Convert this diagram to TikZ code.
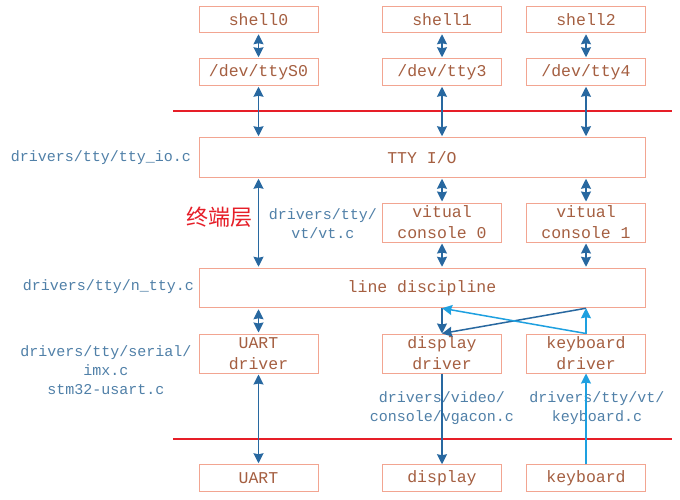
\documentclass[tikz,border=0pt]{standalone}
\usepackage{fontspec}
\setmonofont{Liberation Mono}
\newfontfamily\cjkfont{Noto Sans CJK SC}
\usetikzlibrary{arrows.meta}
\definecolor{boxc}{RGB}{242,165,145}
\definecolor{boxt}{RGB}{165,95,65}
\definecolor{labc}{RGB}{80,128,168}
\definecolor{darkar}{RGB}{40,104,160}
\definecolor{lightar}{RGB}{30,160,224}
\definecolor{redl}{RGB}{230,30,40}
\tikzset{
  ah/.tip={Stealth[length=10pt,width=10pt,inset=1pt]},
  bx/.style={draw=boxc,line width=1pt,inner sep=0pt,minimum width=119pt,text=boxt,
    font=\fontsize{16.5}{21}\selectfont\ttfamily,align=center},
  sbx/.style={bx,minimum height=26.5pt},
  tbx/.style={bx,minimum height=39pt},
  wbx/.style={bx,minimum width=446pt,minimum height=39.5pt},
  lab/.style={text=labc,font=\fontsize{15}{19}\selectfont\ttfamily,align=center,inner sep=0pt},
  dar/.style={draw=darkar,line width=1.5pt,shorten <=1pt,shorten >=1pt,{ah}-{ah}},
  dto/.style={draw=darkar,line width=1.5pt,-{ah}},
  lto/.style={draw=lightar,line width=1.5pt,-{ah}},
  redline/.style={draw=redl,line width=1.2pt}
}
\begin{document}
\begin{tikzpicture}[x=1pt,y=-1pt]
\useasboundingbox[fill=white] (0,0) rectangle (680,500);
% top row
\node[sbx] (shell0) at (258.5,19.5) {shell0};
\node[sbx] (shell1) at (442,19.5) {shell1};
\node[sbx] (shell2) at (586,19.5) {shell2};
\node[sbx] (ttyS0) at (258.5,72) {/dev/ttyS0};
\node[sbx] (tty3) at (442,72) {/dev/tty3};
\node[sbx] (tty4) at (586,72) {/dev/tty4};
% red lines
\coordinate (r1a) at (173,111); \coordinate (r1b) at (672,111);
\coordinate (r2a) at (173,439); \coordinate (r2b) at (672,439);
\draw[redline] (r1a) -- (r1b);
\draw[redline] (r2a) -- (r2b);
% middle
\node[wbx] (ttyio) at (422,157.5) {TTY I/O};
\node[tbx] (vc0) at (442,222.5) {vitual\\console 0};
\node[tbx] (vc1) at (586,222.5) {vitual\\console 1};
\node[wbx] (ld) at (422,288) {line discipline};
\node[tbx] (uartdrv) at (258.5,353.5) {UART\\driver};
\node[tbx] (dispdrv) at (442,353.5) {display\\driver};
\node[tbx] (kbddrv) at (586,353.5) {keyboard\\driver};
% bottom
\node[sbx] (uart) at (258.5,478) {UART};
\node[sbx] (display) at (442,478) {display};
\node[sbx] (keyboard) at (586,478) {keyboard};
% labels
\node[lab,anchor=east] (l1) at (191,158) {drivers/tty/tty\_io.c};
\node[lab] (l2) at (323,224) {drivers/tty/\\vt/vt.c};
\node[lab,anchor=east] (l3) at (194,287) {drivers/tty/n\_tty.c};
\node[lab] (l4) at (106,370) {drivers/tty/serial/\\imx.c\\stm32-usart.c};
\node[lab] (l5) at (442,408) {drivers/video/\\console/vgacon.c};
\node[lab] (l6) at (597,408) {drivers/tty/vt/\\keyboard.c};
\node[text=redl,font=\fontsize{22}{24}\cjkfont,inner sep=0pt] (layer) at (219,217) {终端层};
% arrows column 0
\draw[dar] (shell0) -- (ttyS0);
\draw[dar] (ttyS0.south) -- (ttyS0.south |- ttyio.north);
\draw[dar] (ttyio.south -| ttyS0) -- (ld.north -| ttyS0);
\draw[dar] (ld.south -| uartdrv) -- (uartdrv.north);
\draw[dar] (uartdrv) -- (uart);
% column 1
\draw[dar] (shell1) -- (tty3);
\draw[dar] (tty3.south) -- (tty3.south |- ttyio.north);
\draw[dar] (ttyio.south -| vc0) -- (vc0.north);
\draw[dar] (vc0.south) -- (ld.north -| vc0);
% column 2
\draw[dar] (shell2) -- (tty4);
\draw[dar] (tty4.south) -- (tty4.south |- ttyio.north);
\draw[dar] (ttyio.south -| vc1) -- (vc1.north);
\draw[dar] (vc1.south) -- (ld.north -| vc1);
% cross arrows
\draw[dto] (ld.south -| dispdrv) -- (dispdrv.north);
\draw[dto] (ld.south -| kbddrv) -- (dispdrv.north);
\draw[lto] (kbddrv.north) -- (ld.south -| kbddrv);
\draw[lto] (kbddrv.north) -- (ld.south -| dispdrv);
% bottom arrows
\draw[dto] (dispdrv) -- (display);
\draw[lto] (keyboard) -- (kbddrv);
\end{tikzpicture}
\end{document}
